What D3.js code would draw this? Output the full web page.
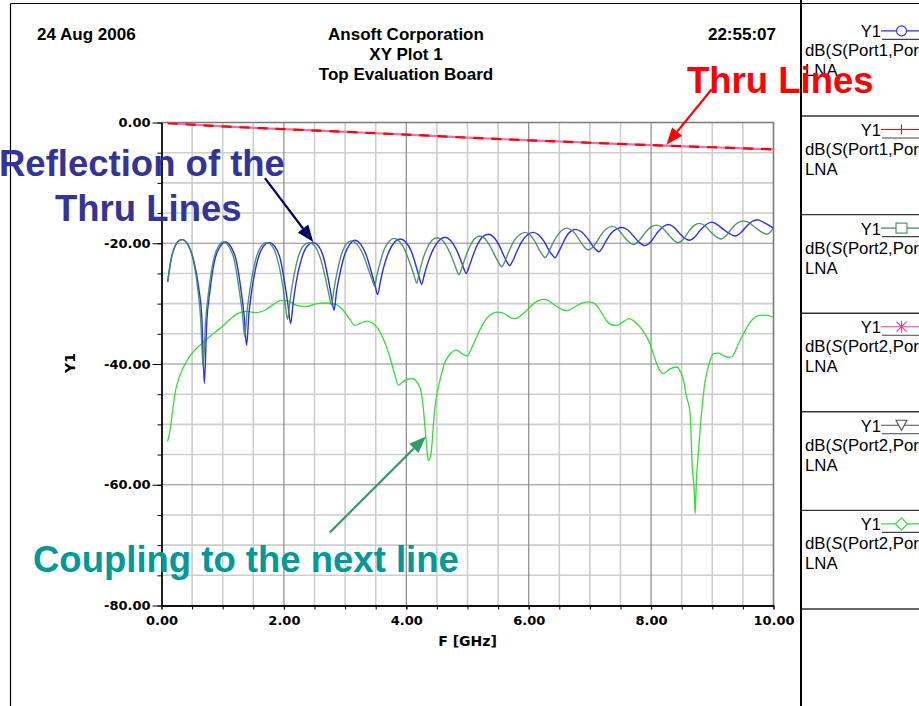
<!DOCTYPE html>
<html>
<head>
<meta charset="utf-8">
<script src="https://cdn.jsdelivr.net/npm/d3@7"></script>
<style>
  html, body { margin: 0; padding: 0; background: #fff; }
  svg { display: block; }
</style>
</head>
<body>
<svg id="chart" width="919" height="706"></svg>
<script>
// ---- data (frequency in GHz, magnitude in dB) ----
const xTickValues = [0, 2, 4, 6, 8, 10];
const yTickValues = [0, -20, -40, -60, -80];

// Reflection, port 1
const s11 = [
  [0.10,-26.4],[0.16,-22.5],[0.22,-20.5],[0.28,-19.6],[0.34,-19.4],
  [0.43,-20.2],[0.52,-22.6],[0.61,-27.5],[0.66,-32.5],[0.70,-43.2],
  [0.74,-33.0],[0.79,-28.0],[0.87,-22.8],[0.96,-20.5],[1.04,-19.8],
  [1.13,-20.5],[1.22,-22.8],[1.30,-27.8],[1.35,-32.0],[1.39,-36.9],
  [1.43,-31.5],[1.48,-27.5],[1.57,-22.8],[1.66,-20.6],[1.76,-19.9],
  [1.85,-20.5],[1.94,-22.6],[2.02,-27.0],[2.07,-30.5],[2.11,-33.3],
  [2.15,-30.0],[2.20,-26.5],[2.29,-22.5],[2.38,-20.5],[2.48,-19.9],
  [2.56,-20.4],[2.65,-22.4],[2.73,-26.2],[2.78,-29.0],[2.82,-31.1],
  [2.86,-28.0],[2.91,-25.3],[2.99,-22.0],[3.08,-20.1],[3.16,-19.5],
  [3.25,-20.1],[3.34,-21.8],[3.43,-24.8],[3.49,-27.0],[3.53,-28.5],
  [3.58,-26.2],[3.63,-24.0],[3.72,-21.3],[3.81,-19.8],[3.90,-19.3],
  [3.99,-19.8],[4.08,-21.3],[4.16,-23.8],[4.21,-25.6],[4.25,-26.8],
  [4.30,-25.0],[4.36,-23.0],[4.45,-20.8],[4.54,-19.5],[4.63,-19.0],
  [4.72,-19.5],[4.81,-20.9],[4.89,-22.8],[4.94,-24.2],[4.98,-25.0],
  [5.03,-23.8],[5.08,-22.3],[5.16,-20.3],[5.25,-18.9],[5.34,-18.5],
  [5.43,-19.0],[5.52,-20.4],[5.60,-22.2],[5.65,-23.2],[5.69,-23.7],
  [5.74,-22.9],[5.80,-21.5],[5.89,-19.7],[5.98,-18.6],[6.07,-18.2],
  [6.16,-18.6],[6.25,-19.7],[6.34,-21.3],[6.39,-22.0],[6.43,-22.4],
  [6.48,-21.6],[6.54,-20.4],[6.62,-18.8],[6.69,-18.0],[6.76,-17.7],
  [6.86,-18.1],[6.96,-19.2],[7.05,-20.5],[7.10,-21.1],[7.15,-21.4],
  [7.20,-20.8],[7.26,-19.7],[7.35,-18.3],[7.44,-17.6],[7.52,-17.4],
  [7.62,-17.8],[7.71,-18.8],[7.80,-19.8],[7.90,-20.4],
  [7.99,-19.8],[8.09,-18.4],[8.19,-17.3],[8.28,-16.9],
  [8.37,-17.3],[8.45,-18.2],[8.54,-19.1],[8.62,-19.5],
  [8.71,-19.0],[8.80,-17.9],[8.90,-16.9],[8.99,-16.5],
  [9.08,-16.9],[9.18,-17.7],[9.28,-18.4],[9.37,-18.8],
  [9.46,-18.3],[9.56,-17.2],[9.65,-16.4],[9.74,-16.1],
  [9.83,-16.5],[9.92,-17.0],[10.0,-17.5]
];

// Reflection, port 2
const s22 = [
  [0.10,-26.4],[0.16,-22.5],[0.22,-20.5],[0.28,-19.6],[0.34,-19.4],
  [0.42,-20.1],[0.51,-22.4],[0.59,-27.3],[0.64,-32.5],[0.68,-40.5],
  [0.72,-33.0],[0.77,-28.0],[0.85,-22.8],[0.93,-20.5],[1.01,-19.8],
  [1.10,-20.5],[1.19,-22.8],[1.27,-27.8],[1.32,-31.5],[1.36,-35.5],
  [1.40,-31.0],[1.45,-27.3],[1.54,-22.7],[1.63,-20.5],[1.72,-19.9],
  [1.81,-20.5],[1.89,-22.5],[1.98,-27.0],[2.02,-30.0],[2.06,-32.6],
  [2.10,-29.5],[2.15,-26.2],[2.23,-22.4],[2.32,-20.4],[2.41,-19.9],
  [2.50,-20.4],[2.59,-22.3],[2.68,-25.8],[2.73,-28.2],[2.78,-30.2],
  [2.82,-27.5],[2.87,-24.8],[2.94,-21.9],[3.02,-20.1],[3.10,-19.6],
  [3.19,-20.1],[3.29,-21.8],[3.38,-24.3],[3.44,-26.0],[3.48,-27.1],
  [3.52,-25.3],[3.57,-23.3],[3.64,-21.0],[3.72,-19.7],[3.80,-19.2],
  [3.89,-19.7],[3.98,-21.2],[4.07,-23.6],[4.13,-25.4],[4.17,-26.6],
  [4.21,-25.0],[4.26,-23.0],[4.34,-20.8],[4.42,-19.5],[4.50,-19.1],
  [4.59,-19.5],[4.68,-20.9],[4.77,-23.0],[4.82,-24.4],[4.86,-25.2],
  [4.91,-24.0],[4.96,-22.5],[5.04,-20.5],[5.12,-19.2],[5.20,-18.8],
  [5.29,-19.3],[5.38,-20.7],[5.47,-22.5],[5.52,-23.4],[5.56,-23.9],
  [5.61,-23.0],[5.67,-21.5],[5.76,-19.6],[5.85,-18.6],[5.94,-18.2],
  [6.02,-18.6],[6.10,-19.7],[6.19,-21.4],[6.23,-22.0],[6.27,-22.4],
  [6.32,-21.6],[6.38,-20.3],[6.47,-18.7],[6.55,-17.8],[6.62,-17.5],
  [6.71,-17.9],[6.80,-19.0],[6.89,-20.4],[6.97,-21.1],
  [7.07,-20.4],[7.17,-18.8],[7.27,-17.6],[7.36,-17.2],
  [7.45,-17.6],[7.54,-18.7],[7.63,-19.7],[7.71,-20.2],
  [7.80,-19.6],[7.90,-18.3],[8.00,-17.3],[8.09,-17.0],
  [8.18,-17.4],[8.27,-18.4],[8.36,-19.4],[8.44,-19.9],
  [8.53,-19.3],[8.62,-18.0],[8.71,-17.0],[8.79,-16.7],
  [8.88,-17.1],[8.97,-18.1],[9.06,-18.9],[9.14,-19.3],
  [9.23,-18.7],[9.33,-17.4],[9.42,-16.6],[9.51,-16.3],
  [9.60,-16.6],[9.70,-17.4],[9.80,-18.1],[9.89,-18.5],[10.0,-17.5]
];

// Transmission through the line (both directions)
const s21 = [[0.1,-0.1],[1,-0.65],[2,-1.1],[3,-1.55],[4,-2.0],[5,-2.5],[6,-2.95],[7,-3.35],[8,-3.75],[9,-4.1],[10,-4.45]];
const s12 = [[0.1,-0.1],[1,-0.65],[2,-1.1],[3,-1.55],[4,-2.0],[5,-2.5],[6,-2.95],[7,-3.35],[8,-3.75],[9,-4.1],[10,-4.45]];

// Coupling into the neighbouring line
const coupling = [
  [0.10,-52.8],[0.14,-51.0],[0.19,-47.1],[0.22,-44.9],[0.28,-42.5],[0.36,-40.5],[0.50,-38.2],
  [0.66,-36.6],[0.82,-35.2],[0.98,-33.9],[1.12,-32.6],[1.25,-31.6],[1.40,-31.3],[1.55,-31.5],
  [1.69,-31.1],[1.82,-30.2],[1.94,-29.5],[2.05,-29.5],[2.21,-30.3],[2.37,-30.5],[2.54,-30.0],
  [2.70,-29.9],[2.81,-30.0],[2.97,-31.1],[3.07,-32.5],[3.16,-33.6],[3.26,-33.2],[3.35,-32.9],
  [3.52,-33.9],[3.63,-36.0],[3.73,-38.8],[3.80,-41.3],[3.87,-43.5],[3.98,-42.7],[4.09,-42.4],
  [4.22,-43.8],[4.27,-46.5],[4.31,-51.0],[4.34,-54.5],[4.36,-56.0],[4.39,-55.5],[4.41,-54.3],
  [4.44,-50.5],[4.47,-47.1],[4.51,-44.5],[4.55,-42.7],[4.62,-40.0],[4.72,-38.3],[4.82,-37.7],
  [4.90,-38.2],[4.99,-38.7],[5.07,-37.3],[5.15,-35.5],[5.23,-33.8],[5.31,-32.5],[5.40,-31.7],
  [5.48,-31.4],[5.56,-31.5],[5.64,-31.9],[5.72,-32.4],[5.78,-32.5],[5.88,-31.9],[5.97,-31.1],
  [6.08,-30.0],[6.18,-29.4],[6.25,-29.3],[6.32,-29.5],[6.42,-30.2],[6.51,-30.8],[6.62,-31.2],
  [6.76,-30.5],[6.85,-30.0],[6.95,-29.7],[7.03,-29.8],[7.11,-30.3],[7.19,-31.5],[7.27,-32.8],
  [7.35,-33.5],[7.44,-33.6],[7.56,-32.9],[7.64,-32.5],[7.72,-32.9],[7.82,-33.9],[7.90,-35.0],
  [7.98,-36.6],[8.04,-38.4],[8.09,-39.9],[8.15,-41.2],[8.20,-41.6],[8.26,-41.2],[8.31,-40.8],
  [8.42,-40.5],[8.48,-41.3],[8.53,-42.7],[8.58,-45.5],[8.62,-47.0],[8.64,-48.5],[8.67,-56.5],
  [8.71,-62.0],[8.72,-64.8],[8.74,-59.3],[8.77,-55.0],[8.80,-51.0],[8.84,-46.5],[8.88,-43.0],
  [8.91,-41.5],[8.96,-39.5],[9.02,-38.3],[9.10,-38.2],[9.18,-38.6],[9.26,-38.9],[9.32,-38.8],
  [9.42,-36.8],[9.51,-35.0],[9.59,-33.5],[9.67,-32.5],[9.75,-32.0],[9.83,-31.9],[9.92,-32.0],
  [10.0,-32.3]
];

// Legend entries (trace label as shown in the narrow legend column, colour, marker)
const legendPorts = ["Port1,Por", "Port1,Por", "Port2,Por", "Port2,Por", "Port2,Por", "Port2,Por"];
const legendColors = ["#2a2aff", "#ff0000", "#3b8c5c", "#ff3399", "#505050", "#33dd33"];
const legendMarkers = ["circle", "plus", "square", "asterisk", "triangle", "diamond"];

// ---- layout ----
const svg = d3.select("#chart");
const plot = { left: 161.5, right: 773.5, top: 122.5, bottom: 605.5 };
const x = d3.scaleLinear().domain([0, 10]).range([plot.left, plot.right]);
const y = d3.scaleLinear().domain([-80, 0]).range([plot.bottom, plot.top]);
const fmt = d3.formatLocale({ decimal: ".", thousands: ",", grouping: [3], currency: ["$", ""], minus: "-" }).format(".2f");

const ARIAL = "'Liberation Sans', Arial, sans-serif";
const VERD = "'DejaVu Sans', Verdana, sans-serif";

svg.append("rect").attr("width", 919).attr("height", 706).attr("fill", "#fff");

// outer frame of the report
svg.append("line").attr("x1", 10.5).attr("x2", 919).attr("y1", 3.5).attr("y2", 3.5).attr("stroke", "#000").attr("stroke-width", 1.2);
svg.append("line").attr("x1", 10.5).attr("x2", 10.5).attr("y1", 3.5).attr("y2", 706).attr("stroke", "#000").attr("stroke-width", 1.2);

// header
const header = svg.append("g").attr("font-family", ARIAL).attr("font-weight", "bold").attr("font-size", 17).attr("fill", "#000");
header.append("text").attr("x", 37).attr("y", 40).text("24 Aug 2006");
header.append("text").attr("x", 776).attr("y", 40).attr("text-anchor", "end").text("22:55:07");
header.append("text").attr("x", 406).attr("y", 40).attr("text-anchor", "middle").text("Ansoft Corporation");
header.append("text").attr("x", 406).attr("y", 60).attr("text-anchor", "middle").text("XY Plot 1");
header.append("text").attr("x", 406).attr("y", 80).attr("text-anchor", "middle").text("Top Evaluation Board");

// grid
const grid = svg.append("g");
const xMinor = d3.range(0.5, 10, 0.5).filter(v => v % 2 !== 0);
const xMajor = xTickValues.filter(v => v > 0 && v < 10);
const yMinor = d3.range(-75, 0, 5).filter(v => v % 20 !== 0);
const yMajor = yTickValues.filter(v => v < 0 && v > -80);
grid.selectAll(".xmin").data(xMinor).join("line")
  .attr("x1", d => x(d)).attr("x2", d => x(d)).attr("y1", plot.top).attr("y2", plot.bottom)
  .attr("stroke", "#cdcdcd").attr("stroke-width", 1.6);
grid.selectAll(".ymin").data(yMinor).join("line")
  .attr("y1", d => y(d)).attr("y2", d => y(d)).attr("x1", plot.left).attr("x2", plot.right)
  .attr("stroke", "#cdcdcd").attr("stroke-width", 1.6);
grid.selectAll(".xmaj").data(xMajor).join("line")
  .attr("x1", d => x(d)).attr("x2", d => x(d)).attr("y1", plot.top).attr("y2", plot.bottom)
  .attr("stroke", "#8a8a8a").attr("stroke-width", 1.2);
grid.selectAll(".ymaj").data(yMajor).join("line")
  .attr("y1", d => y(d)).attr("y2", d => y(d)).attr("x1", plot.left).attr("x2", plot.right)
  .attr("stroke", "#8a8a8a").attr("stroke-width", 1.2);
// top / right border
svg.append("path").attr("d", `M${plot.left},${plot.top}H${plot.right}V${plot.bottom}`)
  .attr("fill", "none").attr("stroke", "#7a7a7a").attr("stroke-width", 1.6);

// axes
const axisStyle = g => {
  g.attr("font-family", VERD).attr("font-weight", "bold").attr("font-size", 13);
  g.selectAll("text").attr("fill", "#000");
  g.selectAll("line").attr("stroke", "#000");
  g.select(".domain").attr("stroke", "#000").attr("stroke-width", 1.3);
};
svg.append("g").attr("transform", `translate(0,${plot.bottom})`)
  .call(d3.axisBottom(x).tickValues(d3.range(0, 10.01, 0.5)).tickFormat("").tickSize(4).tickSizeOuter(0))
  .call(axisStyle);
svg.append("g").attr("transform", `translate(0,${plot.bottom})`)
  .call(d3.axisBottom(x).tickValues(xTickValues).tickFormat(fmt).tickSize(4).tickPadding(6).tickSizeOuter(0))
  .call(axisStyle);
svg.append("g").attr("transform", `translate(${plot.left},0)`)
  .call(d3.axisLeft(y).tickValues(d3.range(-80, 0.01, 5)).tickFormat("").tickSize(4).tickSizeOuter(0))
  .call(axisStyle);
svg.append("g").attr("transform", `translate(${plot.left},0)`)
  .call(d3.axisLeft(y).tickValues(yTickValues).tickFormat(fmt).tickSize(9).tickPadding(2).tickSizeOuter(0))
  .call(axisStyle);

// axis titles
svg.append("text").attr("x", (plot.left + plot.right) / 2).attr("y", 646).attr("text-anchor", "middle")
  .attr("font-family", VERD).attr("font-weight", "bold").attr("font-size", 14).text("F [GHz]");
svg.append("text").attr("transform", "translate(75,363) rotate(-90)").attr("text-anchor", "middle")
  .attr("font-family", VERD).attr("font-weight", "bold").attr("font-size", 14).text("Y1");

// traces
svg.append("clipPath").attr("id", "plotclip").append("rect")
  .attr("x", plot.left).attr("y", plot.top).attr("width", plot.right - plot.left).attr("height", plot.bottom - plot.top);
const traces = svg.append("g").attr("clip-path", "url(#plotclip)");
const line = d3.line().x(d => x(d[0])).y(d => y(d[1])).curve(d3.curveMonotoneX);

traces.append("path").datum(coupling).attr("d", line).attr("fill", "none").attr("stroke", legendColors[5]).attr("stroke-width", 1.3);
traces.append("path").datum(s11).attr("d", line).attr("fill", "none").attr("stroke", legendColors[0]).attr("stroke-width", 1.4);
traces.append("path").datum(s22).attr("d", line).attr("fill", "none").attr("stroke", legendColors[2]).attr("stroke-width", 1.4).attr("stroke-opacity", 0.9);
traces.append("path").datum(s12).attr("d", line).attr("fill", "none").attr("stroke", "#f070a8").attr("stroke-width", 2.2);
traces.append("path").datum(s21).attr("d", line).attr("fill", "none").attr("stroke", legendColors[1]).attr("stroke-width", 2.2).attr("stroke-dasharray", "10,8");

// legend panel
const legend = svg.append("g");
legend.append("line").attr("x1", 801).attr("x2", 801).attr("y1", 0).attr("y2", 706).attr("stroke", "#000").attr("stroke-width", 2);
const boxTop = i => 17.4 + i * 98.6;
legendPorts.forEach((ports, i) => {
  const t = boxTop(i);
  const g = legend.append("g");
  g.append("line").attr("x1", 802).attr("x2", 919).attr("y1", t + 98.6).attr("y2", t + 98.6).attr("stroke", "#333").attr("stroke-width", 1.4);
  g.append("text").attr("x", 881).attr("y", t + 20).attr("text-anchor", "end")
    .attr("font-family", ARIAL).attr("font-size", 16.5).text("Y1");
  const my = t + 13.5, mx = 901.5, c = legendColors[i];
  g.append("line").attr("x1", 881).attr("x2", 919).attr("y1", my).attr("y2", my).attr("stroke", c).attr("stroke-width", 1.1);
  g.append("line").attr("x1", 882).attr("x2", 919).attr("y1", t + 22).attr("y2", t + 22).attr("stroke", "#444").attr("stroke-width", 1.1);
  const m = g.append("g").attr("fill", "#fff").attr("stroke", c).attr("stroke-width", 1.1);
  const mk = legendMarkers[i];
  if (mk === "circle") m.append("circle").attr("cx", mx).attr("cy", my).attr("r", 5);
  if (mk === "plus") m.append("line").attr("x1", mx).attr("x2", mx).attr("y1", my - 5).attr("y2", my + 5);
  if (mk === "square") m.append("rect").attr("x", mx - 5.5).attr("y", my - 5).attr("width", 11).attr("height", 10);
  if (mk === "asterisk") {
    m.append("line").attr("x1", mx).attr("x2", mx).attr("y1", my - 6).attr("y2", my + 6);
    m.append("line").attr("x1", mx - 5).attr("x2", mx + 5).attr("y1", my - 5).attr("y2", my + 5);
    m.append("line").attr("x1", mx - 5).attr("x2", mx + 5).attr("y1", my + 5).attr("y2", my - 5);
  }
  if (mk === "triangle") m.append("path").attr("d", `M${mx - 5.5},${my - 5}H${mx + 5.5}L${mx},${my + 5}Z`);
  if (mk === "diamond") m.append("path").attr("d", `M${mx},${my - 6}L${mx + 6},${my}L${mx},${my + 6}L${mx - 6},${my}Z`);
  const txt = g.append("text").attr("x", 805).attr("y", t + 39).attr("font-family", ARIAL).attr("font-size", 16.8);
  txt.append("tspan").text("dB(");
  txt.append("tspan").attr("font-style", "italic").text("S");
  txt.append("tspan").text("(" + ports);
  g.append("text").attr("x", 805).attr("y", t + 59).attr("font-family", ARIAL).attr("font-size", 16.8).text("LNA");
});

// annotations
function arrow(x1, y1, x2, y2, color) {
  const a = Math.atan2(y2 - y1, x2 - x1), L = 17, w = 6.5;
  const bx = x2 - L * Math.cos(a), by = y2 - L * Math.sin(a);
  svg.append("line").attr("x1", x1).attr("y1", y1).attr("x2", bx).attr("y2", by)
    .attr("stroke", color).attr("stroke-width", 2.2);
  svg.append("path")
    .attr("d", `M${x2},${y2}L${bx + w * Math.sin(a)},${by - w * Math.cos(a)}L${bx - w * Math.sin(a)},${by + w * Math.cos(a)}Z`)
    .attr("fill", color);
}
const notes = svg.append("g").attr("font-family", ARIAL).attr("font-weight", "bold").attr("font-size", 36.5);
notes.append("text").attr("x", 687).attr("y", 93).attr("fill", "#ff0000").text("Thru Lines");
notes.append("text").attr("x", -1).attr("y", 176).attr("fill", "#333399").text("Reflection of the");
notes.append("text").attr("x", 55).attr("y", 221).attr("fill", "#333399").text("Thru Lines");
notes.append("text").attr("x", 33).attr("y", 572).attr("fill", "#009999").text("Coupling to the next line");

arrow(x(8.99), y(5.5), x(8.25), y(-3.7), "#ff0000");
arrow(x(1.69), y(-9.2), x(2.48), y(-19.8), "#000066");
arrow(x(2.75), y(-67.9), x(4.32), y(-52.0), "#339966");
</script>
</body>
</html>
